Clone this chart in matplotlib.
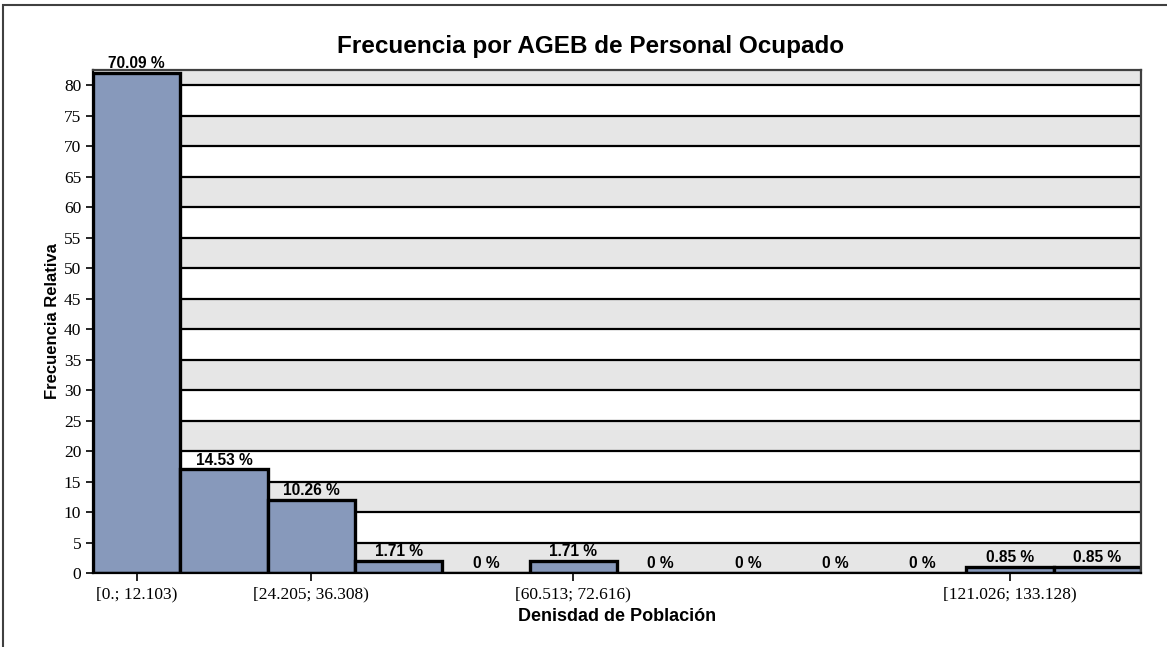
import matplotlib
matplotlib.use("Agg")
import matplotlib.pyplot as plt
from matplotlib.patches import Rectangle
import numpy as np

# histogram data: counts per bin (117 AGEBs in total)
bin_labels = ["[0.; 12.103)", "[12.103; 24.205)", "[24.205; 36.308)", "[36.308; 48.411)",
              "[48.411; 60.513)", "[60.513; 72.616)", "[72.616; 84.718)", "[84.718; 96.821)",
              "[96.821; 108.924)", "[108.924; 121.026)", "[121.026; 133.128)", "[133.128; 145.231)"]
counts = [82, 17, 12, 2, 0, 2, 0, 0, 0, 0, 1, 1]
pct_labels = ["70.09 %", "14.53 %", "10.26 %", "1.71 %", "0 %", "1.71 %",
              "0 %", "0 %", "0 %", "0 %", "0.85 %", "0.85 %"]
shown_ticks = [0, 2, 5, 10]
y_ticks = list(range(0, 85, 5))

fig = plt.figure(figsize=(11.67, 6.47), dpi=100)
ax = fig.add_axes([93 / 1167, 74 / 647, 1048 / 1167, 503 / 647])

# alternating grey bands and black grid lines
for lo in range(0, 85, 10):
    ax.axhspan(lo, lo + 5, color="#e6e6e6", zorder=0, lw=0)
for y in y_ticks[1:]:
    ax.axhline(y, color="black", lw=1.6, zorder=1)

x = np.arange(len(counts))
ax.bar(x, counts, width=1.0, color="#8799bb", edgecolor="black", linewidth=2.4, zorder=2)

for xi, c, lab in zip(x, counts, pct_labels):
    ax.text(xi, c + 0.3, lab, ha="center", va="bottom", fontsize=11.2,
            fontweight="bold", family="Liberation Sans", zorder=3)

ax.set_xlim(-0.5, len(counts) - 0.5)
ax.set_ylim(0, 82.5)
ax.set_yticks(y_ticks)
ax.set_yticklabels([str(v) for v in y_ticks], family="Liberation Serif", fontsize=12.5)
ax.set_xticks(shown_ticks)
ax.set_xticklabels([bin_labels[i] for i in shown_ticks], family="Liberation Serif", fontsize=12.5)
ax.tick_params(axis="both", direction="out", length=5, width=1.2, color="black")
ax.tick_params(axis="x", length=6, pad=4)

for side in ["left", "bottom"]:
    ax.spines[side].set_color("black")
    ax.spines[side].set_linewidth(1.6)
for side in ["top", "right"]:
    ax.spines[side].set_color("#404040")
    ax.spines[side].set_linewidth(1.6)

ax.set_title("Frecuencia por AGEB de Personal Ocupado", fontsize=17.5, fontweight="bold",
             family="Liberation Sans", pad=12, x=0.475)
ax.set_xlabel("Denisdad de Población", fontsize=13, fontweight="bold",
              family="Liberation Sans", labelpad=4)
ax.set_ylabel("Frecuencia Relativa", fontsize=12, fontweight="bold",
              family="Liberation Sans", labelpad=3)

# outer chart frame (cropped on the right and bottom)
fig.patches.append(Rectangle((3 / 1167, -0.1), 1.2, 1.1 - 5 / 647, transform=fig.transFigure,
                             fill=False, edgecolor="#404040", lw=1.5))

fig.savefig("out.png", dpi=100)
